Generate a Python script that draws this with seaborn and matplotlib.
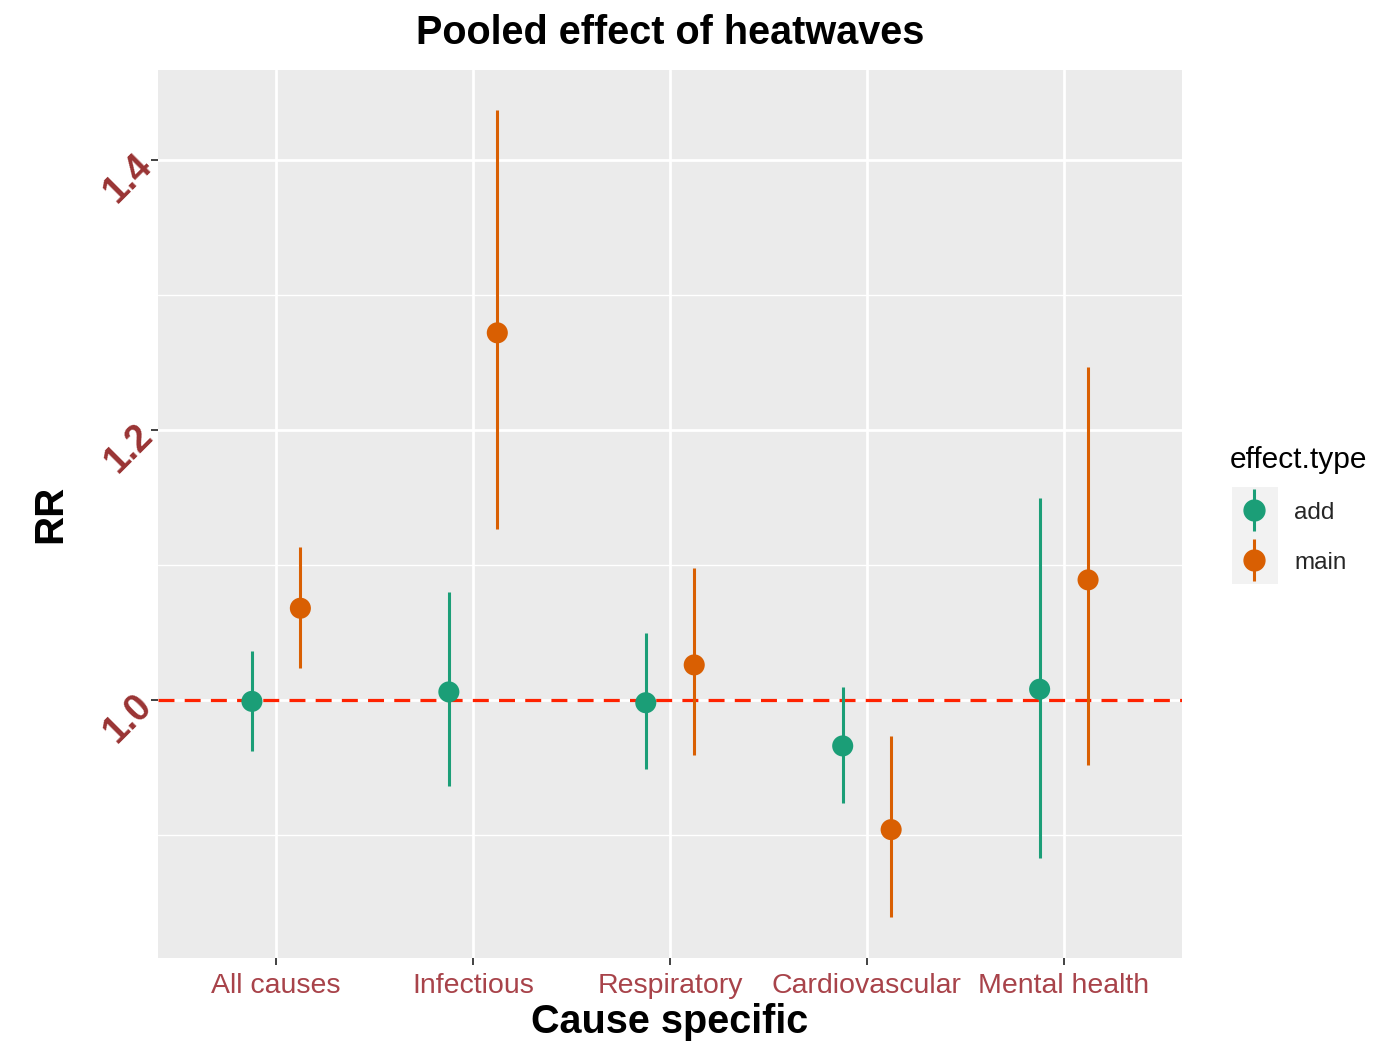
import numpy as np
import pandas as pd
import matplotlib
matplotlib.use("Agg")
import matplotlib.pyplot as plt
import seaborn as sns
from matplotlib.lines import Line2D
from matplotlib.patches import Rectangle
from matplotlib.legend_handler import HandlerTuple

# ---- data ----
causes = ["All causes", "Infectious", "Respiratory", "Cardiovascular", "Mental health"]
effect_types = ["add", "main"]
add_rr = [0.999, 1.006, 0.998, 0.966, 1.008]
add_low = [0.962, 0.936, 0.949, 0.924, 0.883]
add_high = [1.036, 1.080, 1.050, 1.010, 1.150]
main_rr = [1.068, 1.272, 1.026, 0.904, 1.089]
main_low = [1.024, 1.127, 0.959, 0.839, 0.952]
main_high = [1.113, 1.437, 1.098, 0.973, 1.247]
y_ticks = [1.0, 1.2, 1.4]
y_tick_labels = ["1.0", "1.2", "1.4"]

palette = {"add": "#1B9E77", "main": "#D95F02"}

df = pd.DataFrame({
    "cause": causes * 2,
    "effect.type": ["add"] * 5 + ["main"] * 5,
    "RR": add_rr + main_rr,
    "low": add_low + main_low,
    "high": add_high + main_high,
})
dodge = {"add": -0.123, "main": 0.123}
df["xpos"] = [causes.index(c) + dodge[t] for c, t in zip(df["cause"], df["effect.type"])]

sns.set_theme(style="darkgrid")
plt.rcParams["font.family"] = ["Liberation Sans", "DejaVu Sans"]

fig = plt.figure(figsize=(13.77, 10.44), dpi=100)
ax = fig.add_axes([158 / 1377, 86 / 1044, (1182 - 158) / 1377, (958 - 70) / 1044])
ax.set_facecolor("#EBEBEB")

# grid
ax.set_xlim(-0.6, 4.6)
ax.set_ylim(0.8089, 1.4667)
ax.set_xticks(range(len(causes)))
ax.set_yticks(y_ticks)
ax.set_yticks([0.9, 1.1, 1.3], minor=True)
ax.grid(which="major", color="white", linewidth=2.0)
ax.grid(which="minor", axis="y", color="white", linewidth=1.0)
ax.set_axisbelow(True)
for s in ax.spines.values():
    s.set_visible(False)

# reference line
ax.axhline(1.0, color="#FF2200", linewidth=2.3, linestyle=(0, (5.0, 3.2)), zorder=2)

# error bars
for t in effect_types:
    sub = df[df["effect.type"] == t]
    ax.vlines(sub["xpos"], sub["low"], sub["high"], color=palette[t], linewidth=2.2, zorder=3)

sns.scatterplot(data=df, x="xpos", y="RR", hue="effect.type", palette=palette,
                s=230, edgecolor="none", legend=False, ax=ax, zorder=4)

ax.set_xticklabels(causes, color="#A8434A", fontsize=20.5)
ax.set_yticklabels(y_tick_labels, color="#993333", fontsize=27, rotation=45,
                   fontweight="bold", va="center", ha="right", rotation_mode="anchor")
ax.tick_params(axis="both", which="major", length=5, width=1.3, color="#333333",
               bottom=True, left=True)
ax.tick_params(axis="y", which="minor", length=0)
ax.tick_params(axis="x", pad=6)
ax.tick_params(axis="y", pad=3)

ax.set_xlabel("Cause specific", fontsize=28.5, fontweight="bold", color="black", labelpad=3)
ax.set_ylabel("RR", fontsize=29, fontweight="bold", color="black", labelpad=20)
ax.set_title("Pooled effect of heatwaves", fontsize=28.5, fontweight="bold",
             color="black", pad=19)

# legend
fig.patches.append(Rectangle((1232 / 1377, (1044 - 584) / 1044), 46 / 1377, 97 / 1044,
                             transform=fig.transFigure, facecolor="#F2F2F2",
                             edgecolor="none", zorder=0))
handles = []
for t in effect_types:
    vl = Line2D([], [], color=palette[t], marker="|", markersize=30, markeredgewidth=2.2,
                linestyle="none")
    pt = Line2D([], [], color=palette[t], marker="o", markersize=15, linestyle="none")
    handles.append((vl, pt))
leg = fig.legend(handles, effect_types, title="effect.type", loc="upper left",
                 bbox_to_anchor=(1208 / 1377, (1044 - 424) / 1044),
                 frameon=False, fontsize=17.5, title_fontsize=21.5,
                 handler_map={tuple: HandlerTuple(ndivide=1)},
                 handlelength=1.95, handletextpad=0.7, labelspacing=1.15)
leg._legend_box.align = "left"
leg.get_title().set_color("black")

fig.savefig("out.png", dpi=100)
